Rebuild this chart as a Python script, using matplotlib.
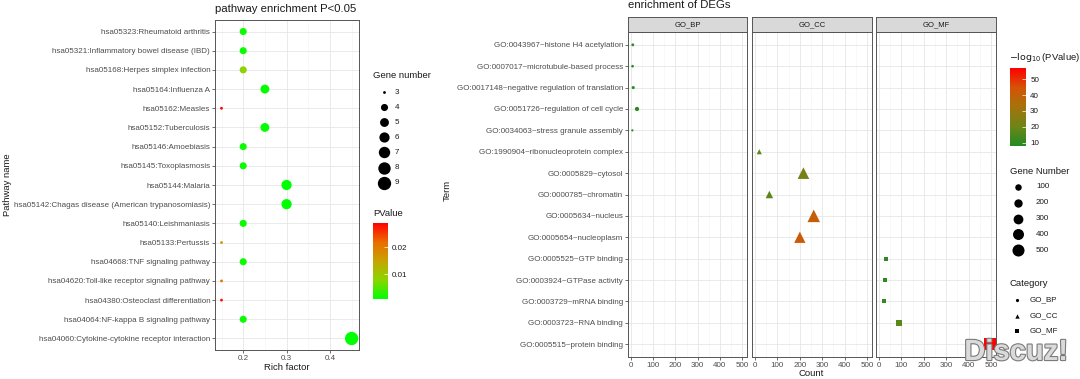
import numpy as np
import matplotlib.pyplot as plt
from matplotlib.colors import LinearSegmentedColormap, Normalize
from matplotlib.ticker import MultipleLocator
from matplotlib import patheffects

plt.rcParams['font.family'] = ['Liberation Sans', 'DejaVu Sans']

# ---- KEGG pathway data (top to bottom) ----
pathways = [
    "hsa05323:Rheumatoid arthritis",
    "hsa05321:Inflammatory bowel disease (IBD)",
    "hsa05168:Herpes simplex infection",
    "hsa05164:Influenza A",
    "hsa05162:Measles",
    "hsa05152:Tuberculosis",
    "hsa05146:Amoebiasis",
    "hsa05145:Toxoplasmosis",
    "hsa05144:Malaria",
    "hsa05142:Chagas disease (American trypanosomiasis)",
    "hsa05140:Leishmaniasis",
    "hsa05133:Pertussis",
    "hsa04668:TNF signaling pathway",
    "hsa04620:Toll-like receptor signaling pathway",
    "hsa04380:Osteoclast differentiation",
    "hsa04064:NF-kappa B signaling pathway",
    "hsa04060:Cytokine-cytokine receptor interaction",
]
rich_factor = [0.2, 0.2, 0.2, 0.25, 0.15, 0.25, 0.2, 0.2, 0.3, 0.3, 0.2, 0.15, 0.2, 0.15, 0.15, 0.2, 0.45]
gene_number = [4, 4, 4, 5, 3, 5, 4, 4, 6, 6, 4, 3, 4, 3, 3, 4, 9]
pvalue = [0.0012, 0.0012, 0.008, 0.001, 0.029, 0.001, 0.0012, 0.0012, 0.0008, 0.0008,
          0.0012, 0.016, 0.0012, 0.021, 0.028, 0.0012, 0.0007]

# ---- GO data (top to bottom) ----
go_terms = [
    "GO:0043967~histone H4 acetylation",
    "GO:0007017~microtubule-based process",
    "GO:0017148~negative regulation of translation",
    "GO:0051726~regulation of cell cycle",
    "GO:0034063~stress granule assembly",
    "GO:1990904~ribonucleoprotein complex",
    "GO:0005829~cytosol",
    "GO:0000785~chromatin",
    "GO:0005634~nucleus",
    "GO:0005654~nucleoplasm",
    "GO:0005525~GTP binding",
    "GO:0003924~GTPase activity",
    "GO:0003729~mRNA binding",
    "GO:0003723~RNA binding",
    "GO:0005515~protein binding",
]
go_category = ["GO_BP"] * 5 + ["GO_CC"] * 5 + ["GO_MF"] * 5
go_count = [8, 7, 10, 27, 6, 19, 216, 64, 262, 200, 30, 28, 24, 88, 495]
go_logp = [9, 8, 9, 10, 8, 18, 22, 17, 40, 42, 10, 10, 11, 17, 57]

categories = ["GO_BP", "GO_CC", "GO_MF"]
cat_markers = {"GO_BP": "o", "GO_CC": "^", "GO_MF": "s"}
cat_scale = {"GO_BP": 1.0, "GO_CC": 1.35, "GO_MF": 0.95}

W, H = 1080, 379
TICK_FS = 5.8
fig = plt.figure(figsize=(10.8, 3.79), dpi=100)


def fbox(x0, y0, x1, y1):
    return [x0 / W, 1 - y1 / H, (x1 - x0) / W, (y1 - y0) / H]


def bw(ax):
    for s in ax.spines.values():
        s.set_color('#555555')
        s.set_linewidth(0.7)
    ax.grid(which='major', color='#E6E6E6', lw=0.6)
    ax.grid(which='minor', color='#F3F3F3', lw=0.4)
    ax.set_axisbelow(True)
    ax.tick_params(which='major', length=2, width=0.5, color='#333333',
                   labelsize=TICK_FS, labelcolor='#4D4D4D', pad=1.5)
    ax.tick_params(which='minor', length=0)


def kegg_size(n):
    d_px = 2.8 + 10.5 * np.sqrt((np.asarray(n) - 3) / 6.0)
    return (d_px * 0.72) ** 2


def go_size(n):
    d_px = 2.2 + 9.8 * np.sqrt(np.clip((np.asarray(n, float) - 6) / 491.0, 0, None))
    return (d_px * 0.72) ** 2


cmap_p = LinearSegmentedColormap.from_list(
    "gr", ["#00FF00", "#8CD400", "#C6A400", "#EB6C00", "#FF0000"])
norm_p = Normalize(0.0007, 0.029)
cmap_go = LinearSegmentedColormap.from_list(
    "gr2", ["#228B22", "#6E8517", "#A5730C", "#D55306", "#FF0000"])
norm_go = Normalize(7.9, 57)

# ---- left panel ----
ax = fig.add_axes(fbox(215, 20, 359, 350))
ypos = np.arange(len(pathways))[::-1]
sc = ax.scatter(rich_factor, ypos, s=kegg_size(gene_number), c=pvalue,
                cmap=cmap_p, norm=norm_p, linewidths=0, zorder=3)
ax.set_yticks(ypos)
ax.set_yticklabels(pathways)
ax.set_ylim(-0.6, len(pathways) - 0.4)
ax.set_xlim(0.135, 0.467)
ax.set_xticks([0.2, 0.3, 0.4])
ax.xaxis.set_minor_locator(MultipleLocator(0.05))
bw(ax)

# ---- right facet panels ----
panel_x = {"GO_BP": (628, 747), "GO_CC": (752, 872), "GO_MF": (876, 996)}
gy = np.arange(len(go_terms))[::-1]
go_count_a = np.array(go_count)
go_logp_a = np.array(go_logp)
go_cat_a = np.array(go_category)
for cat in categories:
    x0, x1 = panel_x[cat]
    pax = fig.add_axes(fbox(x0, 32, x1, 357))
    m = go_cat_a == cat
    sc2 = pax.scatter(go_count_a[m], gy[m], s=go_size(go_count_a[m]) * cat_scale[cat] ** 2,
                      c=go_logp_a[m], cmap=cmap_go, norm=norm_go,
                      marker=cat_markers[cat], linewidths=0, zorder=3)
    pax.set_ylim(-0.6, len(go_terms) - 0.4)
    pax.set_xlim(-13.5, 522)
    pax.set_xticks(range(0, 600, 100))
    pax.xaxis.set_minor_locator(MultipleLocator(50))
    pax.set_yticks(gy)
    if cat == "GO_BP":
        pax.set_yticklabels(go_terms)
    else:
        pax.set_yticklabels([])
    bw(pax)
    if cat != "GO_BP":
        pax.tick_params(axis='y', which='major', length=0)
    sax = fig.add_axes(fbox(x0, 17, x1, 32))
    sax.set_facecolor('#D9D9D9')
    sax.set_xticks([])
    sax.set_yticks([])
    for s in sax.spines.values():
        s.set_color('#555555')
        s.set_linewidth(0.7)
    sax.text(0.5, 0.5, cat, ha='center', va='center', fontsize=5.5, color='#1A1A1A',
             transform=sax.transAxes)

# ---- colorbars ----
cax = fig.add_axes(fbox(373, 223, 388, 299))
cb = fig.colorbar(sc, cax=cax)
cb.outline.set_visible(False)
cb.set_ticks([0.01, 0.02])
cb.set_ticklabels(["0.01", "0.02"])
cb.ax.tick_params(labelsize=TICK_FS, length=3, width=0.5, color='white', direction='in',
                  pad=3, labelcolor='#1A1A1A')

cax2 = fig.add_axes(fbox(1010, 68, 1026, 146))
cb2 = fig.colorbar(sc2, cax=cax2)
cb2.outline.set_visible(False)
cb2.set_ticks([10, 20, 30, 40, 50])
cb2.ax.tick_params(labelsize=TICK_FS, length=3, width=0.5, color='white', direction='in',
                   pad=3, labelcolor='#1A1A1A')

# ---- overlay for titles and legends ----
ov = fig.add_axes([0, 0, 1, 1])
ov.set_xlim(0, W)
ov.set_ylim(H, 0)
ov.axis('off')
ov.patch.set_alpha(0)

ov.text(215, 9, "pathway enrichment P<0.05", fontsize=8.2, ha='left', va='center', color='#1A1A1A')
ov.text(628, 5, "enrichment of DEGs", fontsize=8.2, ha='left', va='center', color='#1A1A1A')
ov.text(287, 368, "Rich factor", fontsize=6.8, ha='center', va='center', color='#1A1A1A')
ov.text(811, 373, "Count", fontsize=6.8, ha='center', va='center', color='#1A1A1A')
ov.text(8, 185, "Pathway name", fontsize=6.8, ha='center', va='center', rotation=90, color='#1A1A1A')
ov.text(447, 190, "Term", fontsize=6.8, ha='center', va='center', rotation=90, color='#1A1A1A')

# left legends
size_levels = [3, 4, 5, 6, 7, 8, 9]
ov.text(373, 75, "Gene number", fontsize=6.8, ha='left', va='center', color='#1A1A1A')
for i, v in enumerate(size_levels):
    yy = 92 + 15.1 * i
    ov.scatter([384], [yy], s=kegg_size([v]), color='black', linewidths=0)
    ov.text(395, yy, str(v), fontsize=TICK_FS, ha='left', va='center', color='#1A1A1A')
ov.text(373, 214, "PValue", fontsize=6.8, ha='left', va='center', color='#1A1A1A')

# right legends
ov.text(1009, 57, r"$-\log_{10}$(PValue)", fontsize=6.8, ha='left', va='center', color='#1A1A1A')
go_levels = [100, 200, 300, 400, 500]
ov.text(1010, 171, "Gene Number", fontsize=6.8, ha='left', va='center', color='#1A1A1A')
for i, v in enumerate(go_levels):
    yy = 187 + 15.8 * i
    ov.scatter([1018], [yy], s=go_size([v]), color='black', linewidths=0)
    ov.text(1036, yy, str(v), fontsize=TICK_FS, ha='left', va='center', color='#1A1A1A')
ov.text(1010, 283, "Category", fontsize=6.8, ha='left', va='center', color='#1A1A1A')
for i, cat in enumerate(categories):
    yy = 300 + 15.5 * i
    ov.scatter([1017], [yy], s=(3.2 * 0.72 * cat_scale[cat]) ** 2, marker=cat_markers[cat],
               color='black', linewidths=0)
    ov.text(1030, yy, cat, fontsize=TICK_FS, ha='left', va='center', color='#1A1A1A')

# watermark
ov.text(1016, 352, "Discuz!", fontsize=21, fontweight='bold', ha='center', va='center',
        color='#DADADA', zorder=10,
        path_effects=[patheffects.withStroke(linewidth=1.6, foreground='#7A7A7A')])

fig.savefig("out.png", dpi=100)
